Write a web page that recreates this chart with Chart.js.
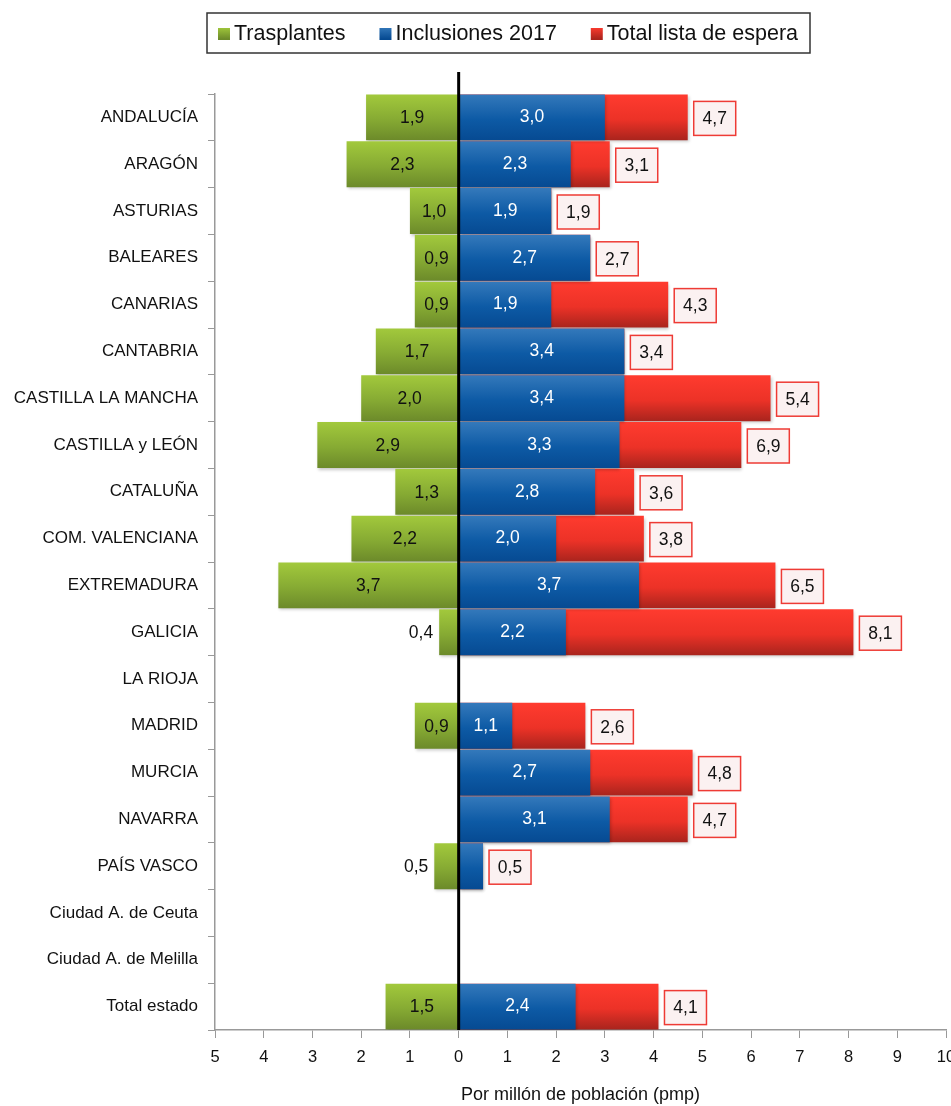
<!DOCTYPE html>
<html>
<head>
<meta charset="utf-8">
<script src="https://cdn.jsdelivr.net/npm/chart.js@4"></script>
<style>
  body { margin: 0; background: #fff; }
  #wrap { width: 951px; height: 1106px; position: relative; }
</style>
</head>
<body>
<div id="wrap"><canvas id="pmpChart"></canvas></div>
<script>
const regiones = ['ANDALUCÍA', 'ARAGÓN', 'ASTURIAS', 'BALEARES', 'CANARIAS', 'CANTABRIA',
  'CASTILLA LA MANCHA', 'CASTILLA y LEÓN', 'CATALUÑA', 'COM. VALENCIANA', 'EXTREMADURA',
  'GALICIA', 'LA RIOJA', 'MADRID', 'MURCIA', 'NAVARRA', 'PAÍS VASCO',
  'Ciudad A. de Ceuta', 'Ciudad A. de Melilla', 'Total estado'];
const trasplantes = [1.9, 2.3, 1.0, 0.9, 0.9, 1.7, 2.0, 2.9, 1.3, 2.2, 3.7, 0.4, null, 0.9, null, null, 0.5, null, null, 1.5];
const inclusiones = [3.0, 2.3, 1.9, 2.7, 1.9, 3.4, 3.4, 3.3, 2.8, 2.0, 3.7, 2.2, null, 1.1, 2.7, 3.1, 0.5, null, null, 2.4];
// longitud de la barra roja tal como se ve en la figura
const totalEspera = [4.7, 3.1, 1.9, 2.7, 4.3, 3.4, 6.4, 5.8, 3.6, 3.8, 6.5, 8.1, null, 2.6, 4.8, 4.7, 0.5, null, null, 4.1];
// cifra impresa en la etiqueta (no siempre coincide con la barra)
const totalEtiqueta = [4.7, 3.1, 1.9, 2.7, 4.3, 3.4, 5.4, 6.9, 3.6, 3.8, 6.5, 8.1, null, 2.6, 4.8, 4.7, 0.5, null, null, 4.1];
const xTicks = [-5, -4, -3, -2, -1, 0, 1, 2, 3, 4, 5, 6, 7, 8, 9, 10];

const FONT = '"Liberation Sans", Arial, Helvetica, sans-serif';
const BAR_PCT = 0.98;

const colores = {
  green: ['#a2c93c', '#86aa33', '#6c8a2a'],
  blue: ['#3479bb', '#0d5aa5', '#064a92'],
  red: ['#ff3b2f', '#ec3227', '#a9241d']
};

function grad(stops) {
  return (c) => {
    const chart = c.chart;
    const y = chart.scales && chart.scales.y;
    if (!y || c.type !== 'data' || !chart.chartArea) return stops[1];
    const cy = y.getPixelForValue(c.dataIndex);
    const h = (y.height / regiones.length) * BAR_PCT / 2;
    const g = chart.ctx.createLinearGradient(0, cy - h, 0, cy + h);
    g.addColorStop(0, stops[0]);
    g.addColorStop(0.55, stops[1]);
    g.addColorStop(1, stops[2]);
    return g;
  };
}

const fmt = v => v.toFixed(1).replace('.', ',');

// sombra ligera bajo las barras
const sombra = {
  id: 'sombra',
  beforeDatasetsDraw(chart) {
    const ctx = chart.ctx;
    ctx.save();
    ctx.shadowColor = 'rgba(0,0,0,0.22)';
    ctx.shadowBlur = 3;
    ctx.shadowOffsetX = 1;
    ctx.shadowOffsetY = 2;
  },
  afterDatasetsDraw(chart) {
    chart.ctx.restore();
  }
};

const etiquetas = {
  id: 'etiquetas',
  afterDatasetsDraw(chart) {
    const ctx = chart.ctx;
    const x = chart.scales.x;
    const area = chart.chartArea;
    const x0 = x.getPixelForValue(0);

    // linea del cero
    ctx.save();
    ctx.strokeStyle = '#000';
    ctx.lineWidth = 3;
    ctx.beginPath();
    ctx.moveTo(x0, area.top - 22);
    ctx.lineTo(x0, area.bottom);
    ctx.stroke();

    ctx.font = '17.5px ' + FONT;
    ctx.textBaseline = 'middle';

    const mG = chart.getDatasetMeta(0).data;
    const mB = chart.getDatasetMeta(1).data;
    const mR = chart.getDatasetMeta(2).data;

    regiones.forEach((r, i) => {
      const t = trasplantes[i];
      if (t != null) {
        const el = mG[i];
        ctx.fillStyle = '#111';
        if (t >= 0.8) {
          ctx.textAlign = 'center';
          ctx.fillText(fmt(t), (el.x + el.base) / 2, el.y + 1);
        } else {
          ctx.textAlign = 'right';
          ctx.fillText(fmt(t), el.x - 6, el.y + 1);
        }
      }
      const b = inclusiones[i];
      if (b != null && b >= 1) {
        const el = mB[i];
        ctx.fillStyle = '#fff';
        ctx.textAlign = 'center';
        ctx.fillText(fmt(b), (el.x + el.base) / 2, el.y);
      }
      const lab = totalEtiqueta[i];
      if (lab != null) {
        const end = Math.max(mR[i].x, mB[i] ? mB[i].x : x0);
        const w = 42, h = 34;
        const bx = end + 6, by = mR[i].y - h / 2 + 1;
        ctx.fillStyle = '#fbf1f1';
        ctx.fillRect(bx, by, w, h);
        ctx.strokeStyle = '#ee3b35';
        ctx.lineWidth = 1.5;
        ctx.strokeRect(bx, by, w, h);
        ctx.fillStyle = '#111';
        ctx.textAlign = 'center';
        ctx.fillText(fmt(lab), bx + w / 2, by + h / 2 + 1);
      }
    });
    ctx.restore();
  }
};

// leyenda con recuadro, dibujada a mano
const leyenda = {
  id: 'leyenda',
  afterDraw(chart) {
    const ctx = chart.ctx;
    const items = [
      ['Trasplantes', colores.green],
      ['Inclusiones 2017', colores.blue],
      ['Total lista de espera', colores.red]
    ];
    ctx.save();
    ctx.font = '21.5px ' + FONT;
    const widths = items.map(it => ctx.measureText(it[0]).width);
    const sw = 12, gap = 4, padL = 11, padR = 12;
    const left = 207, top = 13, boxW = 603, height = 40;
    const used = padL + padR + widths.reduce((a, w) => a + sw + gap + w, 0);
    const sep = (boxW - used) / (items.length - 1);
    ctx.strokeStyle = '#333';
    ctx.lineWidth = 1.5;
    ctx.strokeRect(left, top, boxW, height);
    let cx = left + padL;
    const cy = top + height / 2;
    items.forEach((it, k) => {
      const g = ctx.createLinearGradient(0, cy - sw / 2, 0, cy + sw / 2);
      g.addColorStop(0, it[1][0]);
      g.addColorStop(1, it[1][2]);
      ctx.fillStyle = g;
      ctx.fillRect(cx, cy - sw / 2 + 1, sw, sw);
      cx += sw + gap;
      ctx.fillStyle = '#111';
      ctx.textBaseline = 'middle';
      ctx.textAlign = 'left';
      ctx.fillText(it[0], cx, cy + 1);
      cx += widths[k] + sep;
    });
    ctx.restore();
  }
};

const ctx = document.getElementById('pmpChart').getContext('2d');

const config = {
  type: 'bar',
  data: {
    labels: regiones,
    datasets: [
      {
        label: 'Trasplantes',
        data: trasplantes.map(v => v == null ? null : -v),
        backgroundColor: grad(colores.green)
      },
      {
        label: 'Inclusiones 2017',
        data: inclusiones,
        backgroundColor: grad(colores.blue)
      },
      {
        label: 'Total lista de espera',
        data: totalEspera,
        backgroundColor: grad(colores.red)
      }
    ]
  },
  options: {
    indexAxis: 'y',
    responsive: true,
    maintainAspectRatio: false,
    animation: false,
    datasets: {
      bar: { grouped: false, barPercentage: BAR_PCT, categoryPercentage: 1, borderWidth: 0 }
    },
    layout: { padding: { top: 94, right: 5, left: 0, bottom: 0 } },
    plugins: {
      legend: { display: false },
      tooltip: { enabled: false }
    },
    scales: {
      x: {
        type: 'linear',
        min: -5,
        max: 10,
        afterBuildTicks: (s) => { s.ticks = xTicks.map(v => ({ value: v })); },
        ticks: {
          callback: v => Math.abs(v),
          color: '#111',
          font: { size: 16.5, family: FONT },
          padding: 10,
          maxRotation: 0
        },
        grid: { drawOnChartArea: false, tickLength: 8, color: '#999', tickColor: '#999' },
        border: { color: '#999', width: 1.5 },
        title: {
          display: true,
          text: 'Por millón de población (pmp)',
          color: '#111',
          font: { size: 18, family: FONT },
          padding: { top: 14, bottom: 0 }
        },
        afterFit: (s) => { s.paddingRight = 0; s.paddingLeft = 0; s.height = 76; }
      },
      y: {
        type: 'category',
        offset: true,
        ticks: {
          color: '#111',
          font: { size: 17, family: FONT },
          padding: 10
        },
        grid: { drawOnChartArea: false, offset: true, tickLength: 7, color: '#999', tickColor: '#999' },
        border: { color: '#999', width: 1.5 },
        afterFit: (s) => { s.width = 215; s.paddingTop = 0; s.paddingBottom = 0; }
      }
    }
  },
  plugins: [sombra, etiquetas, leyenda]
};

new Chart(ctx, config);
</script>
</body>
</html>
